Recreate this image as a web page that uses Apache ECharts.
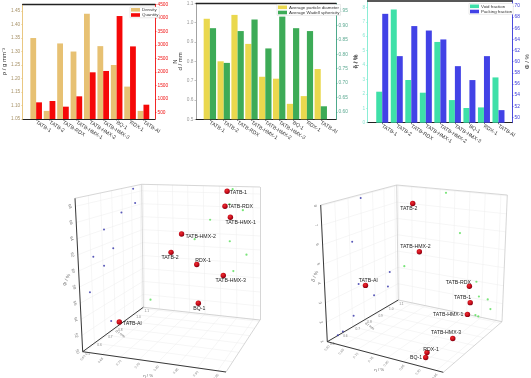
<!DOCTYPE html>
<html><head><meta charset="utf-8">
<style>html,body{margin:0;padding:0;background:#fff}#c{width:531px;height:378px}</style>
<script src="https://cdn.jsdelivr.net/npm/echarts@6/dist/echarts.min.js"></script>
</head><body><div id="c"></div>
<script>
const categories=['TATB-1','TATB-2','TATB-RDX','TATB-HMX-1','TATB-HMX-2','TATB-HMX-3','BQ-1','RDX-1','TATB-Al'];
const density=[1.35,1.08,1.33,1.30,1.44,1.32,1.25,1.17,1.08];
const quantity=[867,917,707,1090,1980,2030,4065,2940,780];
const diameter=[1.02,0.80,1.04,0.89,0.72,0.71,0.58,0.62,0.76];
const sphericity=[0.89,0.77,0.88,0.92,0.82,0.93,0.89,0.88,0.62];
const voidFraction=[2.15,7.85,2.96,2.08,5.6,1.57,1.02,1.06,3.14];
const packingFraction=[68.6,61,66.4,65.6,64,59.2,56.7,61,51.3];
const densityTicks=[1.05,1.10,1.15,1.20,1.25,1.30,1.35,1.40,1.45];
const quantityTicks=[500,1000,1500,2000,2500,3000,3500,4000,4500];
const diameterTicks=[0.5,0.6,0.7,0.8,0.9,1.0,1.1];
const sphericityTicks=[0.60,0.65,0.70,0.75,0.80,0.85,0.90,0.95];
const voidTicks=[0,1,2,3,4,5,6,7,8];
const packingTicks=[50,52,54,56,58,60,62,64,66,68,70];
const floorPackingTicks=[50,52,54,56,58,60,62,64,66,68];
const floorVoidTicks=[1,2,3,4,5,6,7,8];

const FONT='"Liberation Sans",Arial,sans-serif';
const xAxis=[],yAxis=[],grid=[],series=[],legend=[];

function barPanel(p){
  const gi=grid.length;
  grid.push({left:p.left,top:p.top,width:p.right-p.left,height:p.bottom-p.top});
  const xi=xAxis.length;
  xAxis.push({type:'value',gridIndex:gi,min:0,max:p.xMax,position:'bottom',splitLine:{show:false},
    axisLine:{onZero:false,lineStyle:{color:'#222',width:1}},
    axisTick:{customValues:[1,2,3,4,5,6,7,8,9],length:1.5,lineStyle:{color:'#222',width:.6}},
    axisLabel:{customValues:[1,2,3,4,5,6,7,8,9],formatter:v=>categories[Math.round(v)-1],rotate:-32,fontSize:5.2,color:'#333',margin:3,fontFamily:FONT}});
  xAxis.push({type:'value',gridIndex:gi,min:0,max:p.xMax,position:'top',splitLine:{show:false},
    axisLine:{onZero:false,lineStyle:{color:'#222',width:p.topW||1.4}},axisTick:{show:false},axisLabel:{show:false}});
  const yi=yAxis.length;
  const mk=(s,pos)=>({type:'value',gridIndex:gi,position:pos,min:s.min,max:s.max,splitLine:{show:false},
    name:s.title,nameLocation:'middle',nameGap:s.gap,nameRotate:90,nameTextStyle:{color:s.titleColor||'#333',fontSize:6,fontFamily:FONT},
    axisLine:{onZero:false,show:true,lineStyle:{color:s.color,width:.9}},
    axisTick:{show:true,customValues:s.ticks,length:1.5,lineStyle:{color:s.color,width:.6}},
    axisLabel:{customValues:s.ticks,formatter:v=>v.toFixed(s.dec),color:s.labelColor||s.color,fontSize:4.8,margin:2.5,fontFamily:FONT}});
  yAxis.push(mk(p.l,'left'),mk(p.r,'right'));
  const bar=(s,idx)=>({type:'bar',name:s.name,xAxisIndex:xi,yAxisIndex:yi+idx,barWidth:p.barW,barGap:'0%',
    itemStyle:{color:s.barColor},data:s.values.map((v,i)=>[i+1,v])});
  series.push(bar(p.l,0),bar(p.r,1));
  legend.push({show:true,data:[p.l.name,p.r.name],left:p.legend[0],top:p.legend[1],orient:'vertical',
    itemWidth:9,itemHeight:3.6,itemGap:1.2,padding:[.8,1],borderColor:'#ccc',borderWidth:.4,backgroundColor:'#fff',
    textStyle:{fontSize:4.4,color:'#333',fontFamily:FONT,padding:[0,0,0,-3]},icon:'rect'});
}
barPanel({left:20.7,right:155,top:4.3,bottom:119,xMax:9.86,barW:5.8,legend:[130,7],
  l:{name:'Density',values:density,min:1.05,max:1.475,ticks:densityTicks,dec:2,color:'#e7c173',labelColor:'#a8936a',barColor:'#e7c173',title:'ρ / g mm⁻³',gap:11},
  r:{name:'Quantity',values:quantity,min:250,max:4500,ticks:quantityTicks,dec:0,color:'#f01010',barColor:'#f50808',title:'N',gap:15}});
barPanel({left:196,right:336,top:3.3,bottom:119.3,xMax:10.1,barW:6.2,legend:[277,4.5],
  l:{name:'Average particle diameter',values:diameter,min:0.5,max:1.1,ticks:diameterTicks,dec:1,color:'#999',labelColor:'#999',barColor:'#ead84e',title:'d / mm',gap:13},
  r:{name:'Average Wadell sphericity',values:sphericity,min:0.575,max:0.976,ticks:sphericityTicks,dec:2,color:'#3a9f7f',labelColor:'#5aa890',barColor:'#3dab57',title:'η / %',gap:17}});
barPanel({left:367.7,right:513.3,top:0.7,bottom:122.7,xMax:9.93,barW:6,topW:1.6,legend:[469,3.5],
  l:{name:'Void fraction',values:voidFraction,min:0,max:8.46,ticks:voidTicks,dec:0,color:'#7debd0',labelColor:'#8fe6d2',barColor:'#3ee0a8',title:'δ / %',gap:7},
  r:{name:'Packing fraction',values:packingFraction,min:49.04,max:70.96,ticks:packingTicks,dec:0,color:'#3535d8',barColor:'#4242e6',title:'Φ / %',gap:12}});

/* ---------- 3D panels: projected from the same data arrays ---------- */
function homography(P0,P1,P2,P3){
  const dx1=P1[0]-P2[0],dx2=P3[0]-P2[0],sx=P0[0]-P1[0]+P2[0]-P3[0];
  const dy1=P1[1]-P2[1],dy2=P3[1]-P2[1],sy=P0[1]-P1[1]+P2[1]-P3[1];
  const det=dx1*dy2-dx2*dy1;
  const g=(sx*dy2-dx2*sy)/det,h=(dx1*sy-sx*dy1)/det;
  const a=P1[0]-P0[0]+g*P1[0],b=P3[0]-P0[0]+h*P3[0],d=P1[1]-P0[1]+g*P1[1],e=P3[1]-P0[1]+h*P3[1];
  return (u,v)=>{const q=g*u+h*v+1;return[(a*u+b*v+P0[0])/q,(d*u+e*v+P0[1])/q];};
}
function makeCube(c,uR,vR,zR){
  const f=homography(c.A,c.D,c.C,c.B),t=homography(c.At,c.Dt,c.Ct,c.Bt);
  return (eta,dia,z)=>{
    const u=(eta-uR[0])/(uR[1]-uR[0]),v=(dia-vR[0])/(vR[1]-vR[0]),w=(z-zR[0])/(zR[1]-zR[0]);
    const a=f(u,v),b=t(u,v);
    return[a[0]+(b[0]-a[0])*w,a[1]+(b[1]-a[1])*w];
  };
}
const uRange=[0.595,0.97],vRange=[0.50,1.12];
grid.push({left:0,top:0,width:531,height:378});
const si=grid.length-1,sx=xAxis.length,sy=yAxis.length;
xAxis.push({type:'value',gridIndex:si,min:0,max:531,show:false,splitLine:{show:false}});
yAxis.push({type:'value',gridIndex:si,min:0,max:378,inverse:true,show:false,splitLine:{show:false}});

function textItem(pos,text,rot,size,color){
  return{value:pos,symbolSize:1,itemStyle:{color:'rgba(0,0,0,0)'},label:{show:true,position:'inside',formatter:text,rotate:rot||0,fontSize:size,color:color,fontFamily:FONT}};
}
function cubePanel(c){
  const zR=c.zRange,P=makeCube(c.corners,uRange,vRange,zR);
  const [u0,u1]=uRange,[v0,v1]=vRange,[z0,z1]=zR;
  const seg=[],frame=[],axes=[],texts=[];
  const add=(arr,a,b)=>arr.push({coords:[a,b]});
  sphericityTicks.forEach(e=>{add(seg,P(e,v0,z0),P(e,v1,z0));add(seg,P(e,v1,z0),P(e,v1,z1));});
  diameterTicks.forEach(d=>{add(seg,P(u0,d,z0),P(u1,d,z0));add(seg,P(u0,d,z0),P(u0,d,z1));});
  c.zTicks.forEach(z=>{add(seg,P(u0,v0,z),P(u0,v1,z));add(seg,P(u0,v1,z),P(u1,v1,z));});
  add(frame,P(u0,v0,z1),P(u0,v1,z1));add(frame,P(u0,v1,z1),P(u1,v1,z1));
  add(frame,P(u0,v1,z0),P(u0,v1,z1));add(frame,P(u1,v1,z0),P(u1,v1,z1));
  add(frame,P(u0,v1,z0),P(u1,v1,z0));add(frame,P(u1,v0,z0),P(u1,v1,z0));
  add(axes,P(u0,v0,z0),P(u0,v0,z1));add(axes,P(u0,v0,z0),P(u1,v0,z0));add(axes,P(u0,v0,z0),P(u0,v1,z0));
  series.push({type:'lines',coordinateSystem:'cartesian2d',xAxisIndex:sx,yAxisIndex:sy,silent:true,z:1,lineStyle:{color:'#ececec',width:.5,opacity:1},data:seg});
  series.push({type:'lines',coordinateSystem:'cartesian2d',xAxisIndex:sx,yAxisIndex:sy,silent:true,z:2,lineStyle:{color:'#c4c4c4',width:.7,opacity:1},data:frame});
  series.push({type:'lines',coordinateSystem:'cartesian2d',xAxisIndex:sx,yAxisIndex:sy,silent:true,z:3,lineStyle:{color:'#222',width:.9,opacity:1},data:axes});
  c.zTicks.forEach(z=>{const p=P(u0,v0,z);texts.push(textItem([p[0]-5.5,p[1]],String(z),-70,4,'#555'));});
  sphericityTicks.forEach(e=>{const p=P(e,v0,z0);texts.push(textItem([p[0]-1.5,p[1]+6],e.toFixed(2),48,3.4,'#666'));});
  diameterTicks.forEach(d=>{const p=P(u0,d,z0);texts.push(textItem([p[0]+5,p[1]+2.5],d.toFixed(1),0,3.2,'#666'));});
  const ma=P(u0,v0,(z0+z1)/2);
  texts.push(textItem([ma[0]+c.zTitle[0],ma[1]+c.zTitle[1]],c.zName,68,5,'#444'));
  const mu=P((u0+u1)/2,v0,z0);
  texts.push(textItem([mu[0]-3,mu[1]+14],'η / %',0,4.4,'#444'));
  const mv=P(u0,(v0+v1)/2,z0);
  texts.push(textItem([mv[0]+4,mv[1]+7],'d / mm',-36,3.6,'#444'));
  series.push({type:'scatter',xAxisIndex:sx,yAxisIndex:sy,silent:true,z:4,data:texts});
  series.push({type:'scatter',xAxisIndex:sx,yAxisIndex:sy,silent:true,z:5,symbolSize:2,itemStyle:{color:'#2f2fa8'},
    data:diameter.map((d,i)=>P(u0,d,c.z[i]))});
  series.push({type:'scatter',xAxisIndex:sx,yAxisIndex:sy,silent:true,z:5,symbolSize:2.2,itemStyle:{color:'#58dd58'},
    data:sphericity.map((e,i)=>P(e,v1,c.z[i]))});
  series.push({type:'scatter',xAxisIndex:sx,yAxisIndex:sy,silent:true,z:6,symbolSize:5.4,
    itemStyle:{opacity:1,color:{type:'radial',x:.4,y:.35,r:.65,colorStops:[{offset:0,color:'#e83030'},{offset:.6,color:'#c80a1a'},{offset:1,color:'#80000e'}]}},
    data:categories.map((n,i)=>({value:P(sphericity[i],diameter[i],c.z[i]),
      label:{show:true,position:'inside',formatter:n,offset:c.offsets[n],fontSize:5.2,color:'#222',fontFamily:FONT}}))});
}
cubePanel({zRange:[50,69],z:packingFraction,zTicks:floorPackingTicks,zName:'Φ / %',zTitle:[-12,5],
  corners:{A:[82.7,351.7],At:[75,198.3],B:[143.3,307.3],Bt:[141.7,184.3],C:[260,320],Ct:[260,187],D:[226,372],Dt:[224,204]},
  offsets:{'TATB-1':[11.3,1.7],'TATB-RDX':[15.3,.7],'TATB-HMX-1':[10.3,5],'TATB-HMX-2':[19,2.3],'TATB-2':[-1,5],'RDX-1':[6.3,-4.3],'TATB-HMX-3':[7.3,5],'BQ-1':[1,5.7],'TATB-Al':[13,1.7]}});
cubePanel({zRange:[1,8.05],z:voidFraction,zTicks:floorVoidTicks,zName:'δ / %',zTitle:[-9,3],
  corners:{A:[327.3,341.7],At:[320.7,205],B:[398.3,300],Bt:[396.7,185],C:[502,321.7],Ct:[507.3,195],D:[443.3,372.3],Dt:[445,219]},
  offsets:{'TATB-2':[-4,5],'TATB-HMX-2':[-4,-5],'TATB-RDX':[-11,-3.7],'TATB-1':[-7.7,-4.7],'TATB-HMX-1':[-19.3,-.3],'TATB-HMX-3':[-6.7,-5.7],'RDX-1':[4,-3.3],'BQ-1':[-9.7,0],'TATB-Al':[2.7,-5]}});

const chart=echarts.init(document.getElementById('c'));
chart.setOption({animation:false,backgroundColor:'#fff',textStyle:{fontFamily:FONT},grid,xAxis,yAxis,legend,series});
</script></body></html>
